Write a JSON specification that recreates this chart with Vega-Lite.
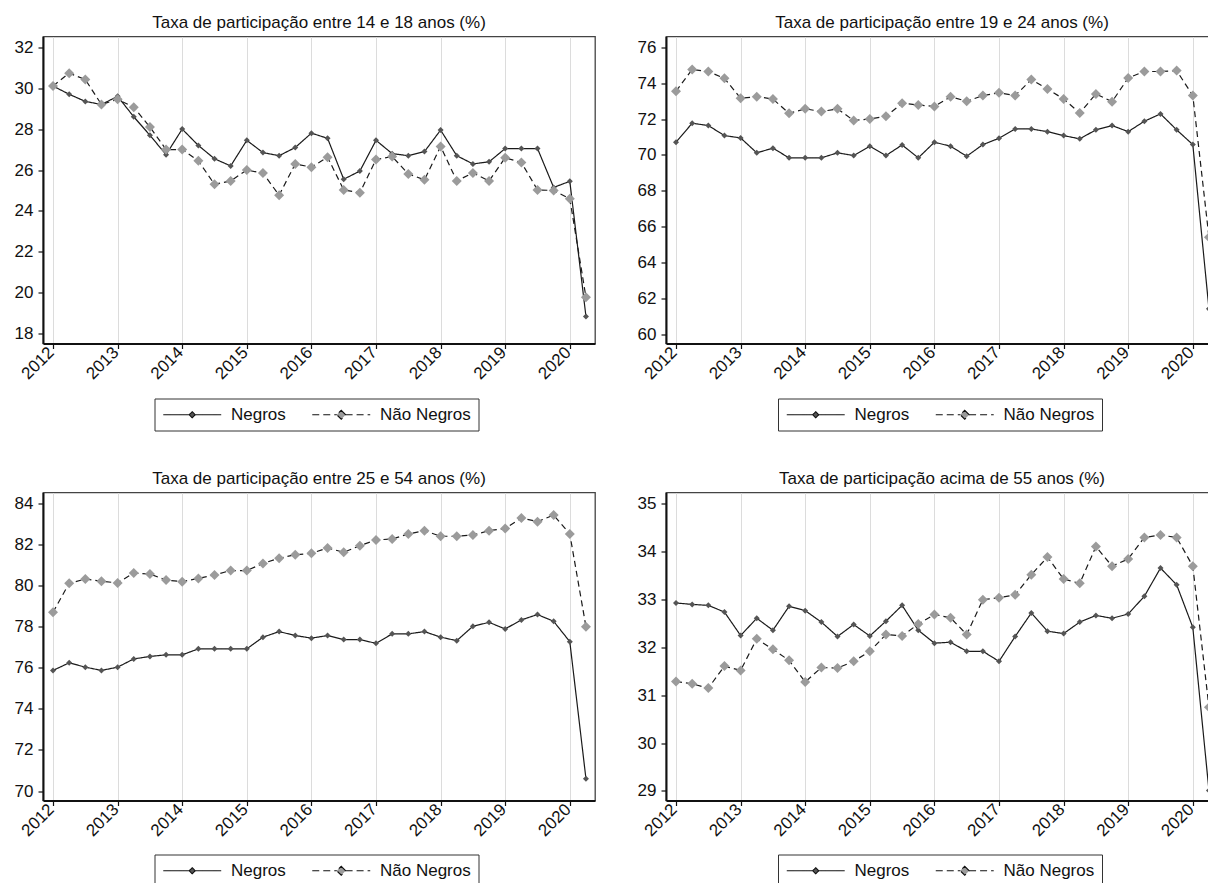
{
  "$schema": "https://vega.github.io/schema/vega-lite/v6.json",
  "padding": {"left": 12, "top": 12.5, "right": 0, "bottom": 0},
  "background": "white",
  "columns": 2,
  "spacing": {"row": 36, "column": 39},
  "resolve": {"scale": {"color": "independent"}, "legend": {"color": "independent"}},
  "config": {
    "font": "Liberation Sans",
    "view": {"stroke": "#444", "strokeWidth": 1.3},
    "axis": {"labelFont": "Liberation Sans", "labelFontSize": 17, "labelColor": "#111", "domainColor": "#111", "domainWidth": 2, "tickColor": "#111", "tickSize": 5, "tickWidth": 1.2, "grid": false, "title": null},
    "axisX": {"grid": true, "gridColor": "#dcdcdc", "gridWidth": 1, "labelAngle": -45, "labelAlign": "right", "labelBaseline": "middle", "labelPadding": 1, "labelOffset": -2},
    "axisY": {"minExtent": 30, "maxExtent": 30, "labelPadding": 5},
    "title": {"font": "Liberation Sans", "fontSize": 17, "fontWeight": "normal", "color": "#111", "anchor": "middle", "frame": "group", "offset": 5, "baseline": "alphabetic"},
    "legend": {"orient": "none", "legendY": 362, "direction": "horizontal", "title": null, "padding": 7.5, "strokeColor": "#333", "fillColor": "white", "labelFont": "Liberation Sans", "labelFontSize": 17, "labelColor": "#111", "labelOffset": 52, "columnPadding": 24, "symbolSize": 210, "symbolStrokeWidth": 1.1, "symbolStrokeColor": "#111",
      "symbolType": {"expr": "datum.value === 'Negros' ? 'M-1,0L2.6,0M3.4,0L7,0M3,-0.42L3.42,0L3,0.42L2.58,0Z' : 'M-1,0L2.4,0M3.6,0L7,0M3,-0.62L3.62,0L3,0.62L2.38,0Z'"},
      "symbolDash": {"expr": "datum.value === 'Negros' ? [1,0] : [7,4]"}}
  },
  "datasets": {
    "p1": [
      {"t": 2012, "Negros": 30.1, "Não Negros": 30.1}, {"t": 2012.25, "Negros": 29.7, "Não Negros": 30.73}, {"t": 2012.5, "Negros": 29.35, "Não Negros": 30.42}, {"t": 2012.75, "Negros": 29.2, "Não Negros": 29.2},
      {"t": 2013, "Negros": 29.6, "Não Negros": 29.45}, {"t": 2013.25, "Negros": 28.6, "Não Negros": 29.07}, {"t": 2013.5, "Negros": 27.7, "Não Negros": 28.1}, {"t": 2013.75, "Negros": 26.75, "Não Negros": 27.0},
      {"t": 2014, "Negros": 28.0, "Não Negros": 27.0}, {"t": 2014.25, "Negros": 27.2, "Não Negros": 26.45}, {"t": 2014.5, "Negros": 26.55, "Não Negros": 25.3}, {"t": 2014.75, "Negros": 26.2, "Não Negros": 25.47},
      {"t": 2015, "Negros": 27.45, "Não Negros": 26.0}, {"t": 2015.25, "Negros": 26.85, "Não Negros": 25.85}, {"t": 2015.5, "Negros": 26.7, "Não Negros": 24.77}, {"t": 2015.75, "Negros": 27.1, "Não Negros": 26.3},
      {"t": 2016, "Negros": 27.8, "Não Negros": 26.14}, {"t": 2016.25, "Negros": 27.55, "Não Negros": 26.63}, {"t": 2016.5, "Negros": 25.55, "Não Negros": 25.03}, {"t": 2016.75, "Negros": 25.95, "Não Negros": 24.89},
      {"t": 2017, "Negros": 27.45, "Não Negros": 26.51}, {"t": 2017.25, "Negros": 26.8, "Não Negros": 26.66}, {"t": 2017.5, "Negros": 26.7, "Não Negros": 25.81}, {"t": 2017.75, "Negros": 26.9, "Não Negros": 25.52},
      {"t": 2018, "Negros": 27.95, "Não Negros": 27.15}, {"t": 2018.25, "Negros": 26.7, "Não Negros": 25.47}, {"t": 2018.5, "Negros": 26.3, "Não Negros": 25.86}, {"t": 2018.75, "Negros": 26.4, "Não Negros": 25.47},
      {"t": 2019, "Negros": 27.05, "Não Negros": 26.6}, {"t": 2019.25, "Negros": 27.05, "Não Negros": 26.37}, {"t": 2019.5, "Negros": 27.05, "Não Negros": 25.03}, {"t": 2019.75, "Negros": 25.15, "Não Negros": 25.0},
      {"t": 2020, "Negros": 25.45, "Não Negros": 24.6}, {"t": 2020.25, "Negros": 18.85, "Não Negros": 19.79}
    ],
    "p2": [
      {"t": 2012, "Negros": 70.71, "Não Negros": 73.55}, {"t": 2012.25, "Negros": 71.77, "Não Negros": 74.76}, {"t": 2012.5, "Negros": 71.64, "Não Negros": 74.65}, {"t": 2012.75, "Negros": 71.08, "Não Negros": 74.27},
      {"t": 2013, "Negros": 70.95, "Não Negros": 73.16}, {"t": 2013.25, "Negros": 70.12, "Não Negros": 73.25}, {"t": 2013.5, "Negros": 70.38, "Não Negros": 73.12}, {"t": 2013.75, "Negros": 69.84, "Não Negros": 72.32},
      {"t": 2014, "Negros": 69.84, "Não Negros": 72.57}, {"t": 2014.25, "Negros": 69.84, "Não Negros": 72.42}, {"t": 2014.5, "Negros": 70.12, "Não Negros": 72.57}, {"t": 2014.75, "Negros": 69.97, "Não Negros": 71.92},
      {"t": 2015, "Negros": 70.49, "Não Negros": 72.01}, {"t": 2015.25, "Negros": 69.97, "Não Negros": 72.16}, {"t": 2015.5, "Negros": 70.56, "Não Negros": 72.88}, {"t": 2015.75, "Negros": 69.84, "Não Negros": 72.79},
      {"t": 2016, "Negros": 70.71, "Não Negros": 72.7}, {"t": 2016.25, "Negros": 70.49, "Não Negros": 73.25}, {"t": 2016.5, "Negros": 69.93, "Não Negros": 72.99}, {"t": 2016.75, "Negros": 70.58, "Não Negros": 73.31},
      {"t": 2017, "Negros": 70.93, "Não Negros": 73.46}, {"t": 2017.25, "Negros": 71.45, "Não Negros": 73.31}, {"t": 2017.5, "Negros": 71.45, "Não Negros": 74.2}, {"t": 2017.75, "Negros": 71.3, "Não Negros": 73.68},
      {"t": 2018, "Negros": 71.08, "Não Negros": 73.12}, {"t": 2018.25, "Negros": 70.9, "Não Negros": 72.34}, {"t": 2018.5, "Negros": 71.4, "Não Negros": 73.4}, {"t": 2018.75, "Negros": 71.64, "Não Negros": 72.97},
      {"t": 2019, "Negros": 71.3, "Não Negros": 74.29}, {"t": 2019.25, "Negros": 71.88, "Não Negros": 74.65}, {"t": 2019.5, "Negros": 72.29, "Não Negros": 74.65}, {"t": 2019.75, "Negros": 71.4, "Não Negros": 74.7},
      {"t": 2020, "Negros": 70.58, "Não Negros": 73.31}, {"t": 2020.25, "Negros": 61.43, "Não Negros": 65.42}
    ],
    "p3": [
      {"t": 2012, "Negros": 75.87, "Não Negros": 78.7}, {"t": 2012.25, "Negros": 76.24, "Não Negros": 80.11}, {"t": 2012.5, "Negros": 76.03, "Não Negros": 80.32}, {"t": 2012.75, "Negros": 75.87, "Não Negros": 80.21},
      {"t": 2013, "Negros": 76.03, "Não Negros": 80.13}, {"t": 2013.25, "Negros": 76.43, "Não Negros": 80.61}, {"t": 2013.5, "Negros": 76.55, "Não Negros": 80.56}, {"t": 2013.75, "Negros": 76.63, "Não Negros": 80.27},
      {"t": 2014, "Negros": 76.63, "Não Negros": 80.19}, {"t": 2014.25, "Negros": 76.92, "Não Negros": 80.35}, {"t": 2014.5, "Negros": 76.92, "Não Negros": 80.52}, {"t": 2014.75, "Negros": 76.92, "Não Negros": 80.73},
      {"t": 2015, "Negros": 76.92, "Não Negros": 80.73}, {"t": 2015.25, "Negros": 77.49, "Não Negros": 81.08}, {"t": 2015.5, "Negros": 77.76, "Não Negros": 81.33}, {"t": 2015.75, "Negros": 77.57, "Não Negros": 81.5},
      {"t": 2016, "Negros": 77.44, "Não Negros": 81.57}, {"t": 2016.25, "Negros": 77.57, "Não Negros": 81.83}, {"t": 2016.5, "Negros": 77.37, "Não Negros": 81.62}, {"t": 2016.75, "Negros": 77.37, "Não Negros": 81.94},
      {"t": 2017, "Negros": 77.19, "Não Negros": 82.22}, {"t": 2017.25, "Negros": 77.65, "Não Negros": 82.27}, {"t": 2017.5, "Negros": 77.65, "Não Negros": 82.51}, {"t": 2017.75, "Negros": 77.76, "Não Negros": 82.67},
      {"t": 2018, "Negros": 77.49, "Não Negros": 82.4}, {"t": 2018.25, "Negros": 77.32, "Não Negros": 82.4}, {"t": 2018.5, "Negros": 78.02, "Não Negros": 82.46}, {"t": 2018.75, "Negros": 78.21, "Não Negros": 82.67},
      {"t": 2019, "Negros": 77.89, "Não Negros": 82.78}, {"t": 2019.25, "Negros": 78.33, "Não Negros": 83.29}, {"t": 2019.5, "Negros": 78.59, "Não Negros": 83.11}, {"t": 2019.75, "Negros": 78.26, "Não Negros": 83.43},
      {"t": 2020, "Negros": 77.27, "Não Negros": 82.51}, {"t": 2020.25, "Negros": 70.6, "Não Negros": 78.0}
    ],
    "p4": [
      {"t": 2012, "Negros": 32.93, "Não Negros": 31.29}, {"t": 2012.25, "Negros": 32.9, "Não Negros": 31.24}, {"t": 2012.5, "Negros": 32.88, "Não Negros": 31.15}, {"t": 2012.75, "Negros": 32.74, "Não Negros": 31.61},
      {"t": 2013, "Negros": 32.25, "Não Negros": 31.52}, {"t": 2013.25, "Negros": 32.61, "Não Negros": 32.18}, {"t": 2013.5, "Negros": 32.36, "Não Negros": 31.96}, {"t": 2013.75, "Negros": 32.86, "Não Negros": 31.73},
      {"t": 2014, "Negros": 32.77, "Não Negros": 31.28}, {"t": 2014.25, "Negros": 32.53, "Não Negros": 31.58}, {"t": 2014.5, "Negros": 32.23, "Não Negros": 31.57}, {"t": 2014.75, "Negros": 32.48, "Não Negros": 31.71},
      {"t": 2015, "Negros": 32.24, "Não Negros": 31.92}, {"t": 2015.25, "Negros": 32.55, "Não Negros": 32.27}, {"t": 2015.5, "Negros": 32.88, "Não Negros": 32.24}, {"t": 2015.75, "Negros": 32.36, "Não Negros": 32.49},
      {"t": 2016, "Negros": 32.09, "Não Negros": 32.69}, {"t": 2016.25, "Negros": 32.11, "Não Negros": 32.62}, {"t": 2016.5, "Negros": 31.92, "Não Negros": 32.27}, {"t": 2016.75, "Negros": 31.92, "Não Negros": 33.0},
      {"t": 2017, "Negros": 31.71, "Não Negros": 33.04}, {"t": 2017.25, "Negros": 32.23, "Não Negros": 33.1}, {"t": 2017.5, "Negros": 32.72, "Não Negros": 33.52}, {"t": 2017.75, "Negros": 32.34, "Não Negros": 33.89},
      {"t": 2018, "Negros": 32.29, "Não Negros": 33.43}, {"t": 2018.25, "Negros": 32.53, "Não Negros": 33.34}, {"t": 2018.5, "Negros": 32.67, "Não Negros": 34.11}, {"t": 2018.75, "Negros": 32.61, "Não Negros": 33.7},
      {"t": 2019, "Negros": 32.7, "Não Negros": 33.85}, {"t": 2019.25, "Negros": 33.07, "Não Negros": 34.3}, {"t": 2019.5, "Negros": 33.66, "Não Negros": 34.35}, {"t": 2019.75, "Negros": 33.31, "Não Negros": 34.3},
      {"t": 2020, "Negros": 32.42, "Não Negros": 33.7}, {"t": 2020.25, "Negros": 29.01, "Não Negros": 30.75}
    ]
  },
  "concat": [
    {
      "width": 552, "height": 307,
      "title": "Taxa de participação entre 14 e 18 anos (%)",
      "data": {"name": "p1"},
      "transform": [{"fold": ["Negros", "Não Negros"], "as": ["s", "v"]}],
      "encoding": {
        "x": {"field": "t", "type": "quantitative", "scale": {"domain": [2011.845, 2020.39], "nice": false, "zero": false}, "axis": {"values": [2012, 2013, 2014, 2015, 2016, 2017, 2018, 2019, 2020], "format": "d"}},
        "y": {"field": "v", "type": "quantitative", "scale": {"domain": [17.53, 32.52], "nice": false, "zero": false}, "axis": {"values": [18, 20, 22, 24, 26, 28, 30, 32]}}
      },
      "layer": [
        {"mark": {"type": "line", "strokeWidth": 1.2, "color": "#1a1a1a"}, "encoding": {"detail": {"field": "s"}, "strokeDash": {"condition": {"test": "datum.s === 'Negros'", "value": [1, 0]}, "value": [6, 4]}}},
        {"mark": {"type": "point", "shape": "diamond", "filled": true, "opacity": 1}, "encoding": {
          "size": {"condition": {"test": "datum.s === 'Negros'", "value": 36}, "value": 100},
          "color": {"field": "s", "type": "nominal", "scale": {"domain": ["Negros", "Não Negros"], "range": ["#555555", "#9b9b9b"]}, "legend": {"legendX": 111.5}}
        }}
      ]
    },
    {
      "width": 552, "height": 307,
      "title": "Taxa de participação entre 19 e 24 anos (%)",
      "data": {"name": "p2"},
      "transform": [{"fold": ["Negros", "Não Negros"], "as": ["s", "v"]}],
      "encoding": {
        "x": {"field": "t", "type": "quantitative", "scale": {"domain": [2011.845, 2020.39], "nice": false, "zero": false}, "axis": {"values": [2012, 2013, 2014, 2015, 2016, 2017, 2018, 2019, 2020], "format": "d"}},
        "y": {"field": "v", "type": "quantitative", "scale": {"domain": [59.5, 76.6], "nice": false, "zero": false}, "axis": {"values": [60, 62, 64, 66, 68, 70, 72, 74, 76]}}
      },
      "layer": [
        {"mark": {"type": "line", "strokeWidth": 1.2, "color": "#1a1a1a"}, "encoding": {"detail": {"field": "s"}, "strokeDash": {"condition": {"test": "datum.s === 'Negros'", "value": [1, 0]}, "value": [6, 4]}}},
        {"mark": {"type": "point", "shape": "diamond", "filled": true, "opacity": 1}, "encoding": {
          "size": {"condition": {"test": "datum.s === 'Negros'", "value": 36}, "value": 100},
          "color": {"field": "s", "type": "nominal", "scale": {"domain": ["Negros", "Não Negros"], "range": ["#555555", "#9b9b9b"]}, "legend": {"legendX": 112}}
        }}
      ]
    },
    {
      "width": 552, "height": 308,
      "title": "Taxa de participação entre 25 e 54 anos (%)",
      "data": {"name": "p3"},
      "transform": [{"fold": ["Negros", "Não Negros"], "as": ["s", "v"]}],
      "encoding": {
        "x": {"field": "t", "type": "quantitative", "scale": {"domain": [2011.845, 2020.39], "nice": false, "zero": false}, "axis": {"values": [2012, 2013, 2014, 2015, 2016, 2017, 2018, 2019, 2020], "format": "d"}},
        "y": {"field": "v", "type": "quantitative", "scale": {"domain": [69.54, 84.53], "nice": false, "zero": false}, "axis": {"values": [70, 72, 74, 76, 78, 80, 82, 84]}}
      },
      "layer": [
        {"mark": {"type": "line", "strokeWidth": 1.2, "color": "#1a1a1a"}, "encoding": {"detail": {"field": "s"}, "strokeDash": {"condition": {"test": "datum.s === 'Negros'", "value": [1, 0]}, "value": [6, 4]}}},
        {"mark": {"type": "point", "shape": "diamond", "filled": true, "opacity": 1}, "encoding": {
          "size": {"condition": {"test": "datum.s === 'Negros'", "value": 36}, "value": 100},
          "color": {"field": "s", "type": "nominal", "scale": {"domain": ["Negros", "Não Negros"], "range": ["#555555", "#9b9b9b"]}, "legend": {"legendX": 111.5}}
        }}
      ]
    },
    {
      "width": 552, "height": 308,
      "title": "Taxa de participação acima de 55 anos (%)",
      "data": {"name": "p4"},
      "transform": [{"fold": ["Negros", "Não Negros"], "as": ["s", "v"]}],
      "encoding": {
        "x": {"field": "t", "type": "quantitative", "scale": {"domain": [2011.845, 2020.39], "nice": false, "zero": false}, "axis": {"values": [2012, 2013, 2014, 2015, 2016, 2017, 2018, 2019, 2020], "format": "d"}},
        "y": {"field": "v", "type": "quantitative", "scale": {"domain": [28.8, 35.24], "nice": false, "zero": false}, "axis": {"values": [29, 30, 31, 32, 33, 34, 35]}}
      },
      "layer": [
        {"mark": {"type": "line", "strokeWidth": 1.2, "color": "#1a1a1a"}, "encoding": {"detail": {"field": "s"}, "strokeDash": {"condition": {"test": "datum.s === 'Negros'", "value": [1, 0]}, "value": [6, 4]}}},
        {"mark": {"type": "point", "shape": "diamond", "filled": true, "opacity": 1}, "encoding": {
          "size": {"condition": {"test": "datum.s === 'Negros'", "value": 36}, "value": 100},
          "color": {"field": "s", "type": "nominal", "scale": {"domain": ["Negros", "Não Negros"], "range": ["#555555", "#9b9b9b"]}, "legend": {"legendX": 112}}
        }}
      ]
    }
  ]
}
